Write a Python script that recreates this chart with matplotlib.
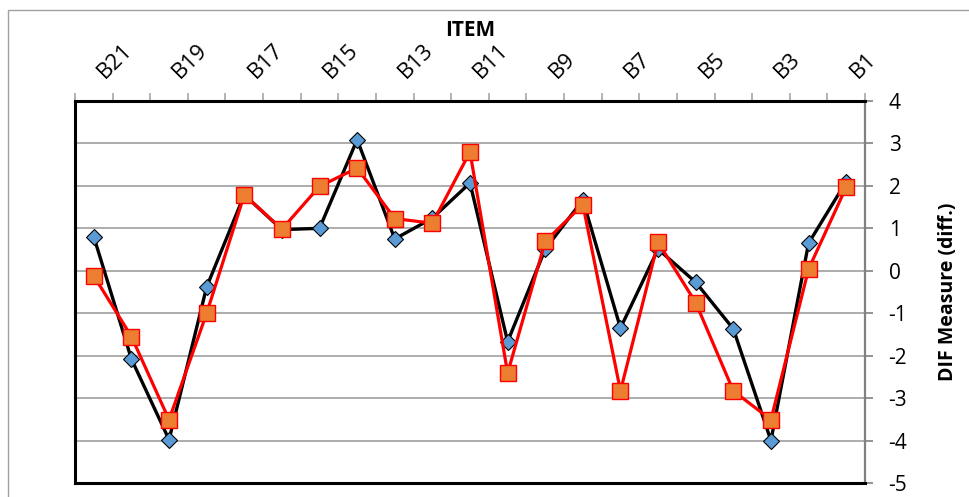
import numpy as np
import matplotlib.pyplot as plt
from matplotlib.patches import Rectangle

plt.rcParams['font.family'] = ['Open Sans', 'DejaVu Sans']
plt.rcParams['axes.unicode_minus'] = False

# items from left to right (B21 .. B1)
items = ['B%d' % n for n in range(21, 0, -1)]
# DIF measure, group 1 (blue diamonds, black line)
dif_a = [0.80, -2.08, -3.98, -0.38, 1.79, 0.97, 1.00, 3.09, 0.75, 1.24, 2.07,
         -1.67, 0.51, 1.67, -1.35, 0.51, -0.27, -1.37, -4.00, 0.65, 2.10]
# DIF measure, group 2 (orange squares, red line)
dif_b = [-0.12, -1.55, -3.51, -1.00, 1.79, 0.98, 1.99, 2.42, 1.23, 1.12, 2.80,
         -2.41, 0.69, 1.56, -2.83, 0.67, -0.75, -2.83, -3.51, 0.04, 1.97]
y_ticks = list(range(-5, 5))

fig = plt.figure(figsize=(9.7, 4.97), dpi=100)
ax = fig.add_axes([75/970, 1-483/497, 790/970, 382/497])

x = np.arange(1, len(items) + 1)
ax.plot(x, dif_a, color='black', lw=2.4, marker='D', ms=8.2,
        mfc='#5B9BD5', mec='black', mew=0.8, zorder=3, clip_on=False)
ax.plot(x, dif_b, color='#FF0000', lw=2.3, marker='s', ms=11.5,
        mfc='#ED7D31', mec='#FF0000', mew=1.0, zorder=4, clip_on=False)

ax.set_xlim(0.5, len(items) + 0.5)
ax.set_ylim(-5, 4)

# y axis on the right
ax.yaxis.tick_right()
ax.yaxis.set_label_position('right')
ax.set_yticks(y_ticks)
ax.set_yticklabels([str(v) for v in y_ticks], fontsize=15)
ax.tick_params(axis='y', direction='out', length=6, width=1.2, color='#808080', pad=11)
ax.set_ylabel('DIF Measure (diff.)', fontsize=14, fontweight='bold')
ax.yaxis.label.set_ha('center')
ax.yaxis.label.set_va('center')
ax.yaxis.set_label_coords((948 - 75) / 790, 0.5)

# category axis on top, every second item labelled
ax.xaxis.tick_top()
ax.xaxis.set_label_position('top')
ax.set_xticks(x[::2])
ax.set_xticklabels(items[::2])
ax.set_xticks(np.arange(0.5, len(items) + 1), minor=True)
ax.tick_params(axis='x', which='major', length=0, pad=13.5)
ax.tick_params(axis='x', which='minor', direction='out', length=6, width=1.2, color='#A6A6A6')
for tick in ax.xaxis.get_major_ticks():
    tick.label2.set(rotation=45, ha='left', va='bottom',
                    rotation_mode='default', fontsize=16)
ax.set_xlabel('ITEM', fontsize=15, fontweight='bold')
ax.xaxis.label.set_va('center')
ax.xaxis.set_label_coords(0.5, (497 - 31 - 14) / 382)

ax.grid(axis='y', color='#A6A6A6', lw=1.3, zorder=0)
ax.set_axisbelow(True)

for side in ['left', 'bottom', 'top']:
    ax.spines[side].set_color('black')
    ax.spines[side].set_linewidth(2.2)
ax.spines['right'].set_color('#808080')
ax.spines['right'].set_linewidth(1.6)

fig.patches.append(Rectangle((8/970, -0.1), 1.2, 1.1 - 10/497, transform=fig.transFigure,
                             fill=False, edgecolor='#A0A0A0', lw=1.0))

fig.savefig('out.png', dpi=100)
